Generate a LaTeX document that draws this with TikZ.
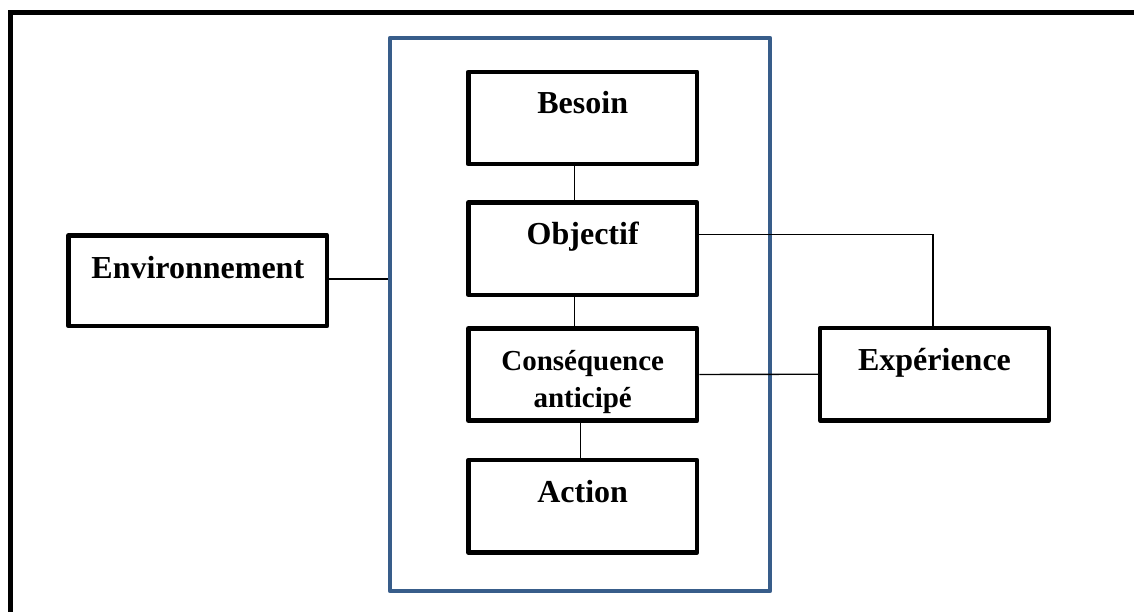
\documentclass[tikz,border=0pt]{standalone}
\usepackage{fontspec}
\setmainfont{Liberation Serif}
\definecolor{frameblue}{HTML}{385D8A}
\begin{document}
\begin{tikzpicture}[x=1pt,y=-1pt,
  box/.style={draw=black,line width=4.6pt,line join=round,minimum width=228.7pt,minimum height=92.3pt,inner sep=0pt,fill=white},
  lbl/.style={anchor=base,inner sep=0pt,font=\fontsize{32}{38}\selectfont\bfseries},
  lblsmall/.style={anchor=center,inner sep=0pt,align=center,font=\fontsize{29}{37.5}\selectfont\bfseries},
  wire/.style={draw=black,line width=1.4pt}]
\useasboundingbox (0,0) rectangle (1134,612);
\clip (0,0) rectangle (1134,612);
\fill[white] (0,0) rectangle (1134,612);
% outer frame (only left and top edges visible)
\draw[line width=5pt] (10.5,640) -- (10.5,12.5) -- (1160,12.5);
% blue frame
\node[draw=frameblue,line width=4.6pt,line join=round,minimum width=380pt,minimum height=553pt,inner sep=0pt] (blue) at (580,314.5) {};
% boxes
\node[box] (besoin) at (582.7,118) {};
\node[box] (objectif) at (582.7,248.7) {};
\node[box] (conseq) at (582.7,374.5) {};
\node[box] (action) at (582.7,506.3) {};
\node[box] (exp) at (934.5,374.2) {};
\node[box,minimum width=258.3pt,minimum height=90.7pt] (env) at (197.8,280.7) {};
% labels
\node[lbl] (tbesoin) at ([yshift=4pt]besoin.center) {Besoin};
\node[lbl] (tobjectif) at ([yshift=4pt]objectif.center) {Objectif};
\node[lblsmall] (tconseq) at ([yshift=-7.5pt]conseq.center) {Conséquence\\anticipé};
\node[lbl] (taction) at ([yshift=4pt]action.center) {Action};
\node[lbl] (texp) at ([yshift=4pt]exp.center) {Expérience};
\node[lbl] (tenv) at ([yshift=2.7pt]env.center) {Environnement};
% connectors
\draw[wire] ([xshift=-8.4pt]besoin.south) -- ([xshift=-8.4pt]objectif.north);
\draw[wire] ([xshift=-8.4pt]objectif.south) -- ([xshift=-8.4pt]conseq.north);
\draw[wire] ([xshift=-2.4pt]conseq.south) -- ([xshift=-2.4pt]action.north);
\draw[wire] ([yshift=14pt]objectif.east) -| ([xshift=-1.5pt]exp.north);
\draw[wire] (conseq.east) -- (exp.west);
\draw[wire] ([yshift=1.7pt]env.east) -- ([yshift=1.7pt]env.east -| blue.west);
\end{tikzpicture}
\end{document}
